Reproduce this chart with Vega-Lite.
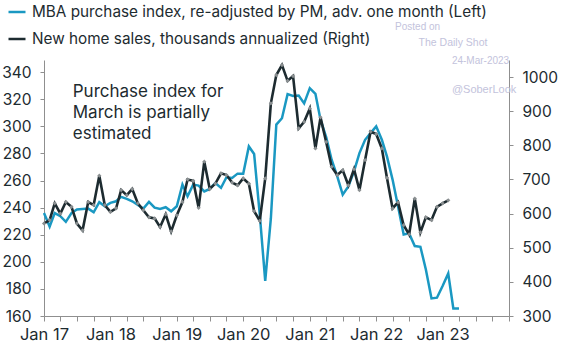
{
  "$schema": "https://vega.github.io/schema/vega-lite/v6.json",
  "width": 465,
  "height": 256,
  "autosize": {"type": "none"},
  "padding": {"left": 44, "top": 60, "right": 55, "bottom": 40},
  "background": "white",
  "config": {
    "view": {"stroke": null},
    "font": "Inter",
    "axis": {"labelFont": "Inter", "labelFontSize": 15.5, "labelColor": "#1d2b30", "domainColor": "#8f8f8f", "tickColor": "#8f8f8f", "grid": false, "title": null, "tickSize": 4},
    "legend": {"orient": "none", "legendX": -37, "legendY": -58, "direction": "vertical", "title": null, "labelFont": "Inter", "labelFontSize": 15.3, "labelColor": "#1d2b30", "symbolType": "stroke", "symbolSize": 289, "symbolStrokeWidth": 2.5, "rowPadding": 8, "labelOffset": 5, "padding": 0, "labelLimit": 600}
  },
  "datasets": {
    "series": [
      {"date": "2017-01-01", "series": "MBA", "value": 236},
      {"date": "2017-02-01", "series": "MBA", "value": 226},
      {"date": "2017-03-01", "series": "MBA", "value": 236},
      {"date": "2017-04-01", "series": "MBA", "value": 233.7},
      {"date": "2017-05-01", "series": "MBA", "value": 229.5},
      {"date": "2017-06-01", "series": "MBA", "value": 236},
      {"date": "2017-07-01", "series": "MBA", "value": 238.6},
      {"date": "2017-08-01", "series": "MBA", "value": 239},
      {"date": "2017-09-01", "series": "MBA", "value": 239.3},
      {"date": "2017-10-01", "series": "MBA", "value": 236.6},
      {"date": "2017-11-01", "series": "MBA", "value": 244},
      {"date": "2017-12-01", "series": "MBA", "value": 241},
      {"date": "2018-01-01", "series": "MBA", "value": 243.5},
      {"date": "2018-02-01", "series": "MBA", "value": 244.7},
      {"date": "2018-03-01", "series": "MBA", "value": 248},
      {"date": "2018-04-01", "series": "MBA", "value": 246.5},
      {"date": "2018-05-01", "series": "MBA", "value": 244.7},
      {"date": "2018-06-01", "series": "MBA", "value": 242},
      {"date": "2018-07-01", "series": "MBA", "value": 239.3},
      {"date": "2018-08-01", "series": "MBA", "value": 244.2},
      {"date": "2018-09-01", "series": "MBA", "value": 240},
      {"date": "2018-10-01", "series": "MBA", "value": 239},
      {"date": "2018-11-01", "series": "MBA", "value": 240.3},
      {"date": "2018-12-01", "series": "MBA", "value": 237.3},
      {"date": "2019-01-01", "series": "MBA", "value": 241},
      {"date": "2019-02-01", "series": "MBA", "value": 257},
      {"date": "2019-03-01", "series": "MBA", "value": 248.4},
      {"date": "2019-04-01", "series": "MBA", "value": 257},
      {"date": "2019-05-01", "series": "MBA", "value": 256.3},
      {"date": "2019-06-01", "series": "MBA", "value": 252},
      {"date": "2019-07-01", "series": "MBA", "value": 253.8},
      {"date": "2019-08-01", "series": "MBA", "value": 258.2},
      {"date": "2019-09-01", "series": "MBA", "value": 254.6},
      {"date": "2019-10-01", "series": "MBA", "value": 262.4},
      {"date": "2019-11-01", "series": "MBA", "value": 261.9},
      {"date": "2019-12-01", "series": "MBA", "value": 265.1},
      {"date": "2020-01-01", "series": "MBA", "value": 265.1},
      {"date": "2020-02-01", "series": "MBA", "value": 285.2},
      {"date": "2020-03-01", "series": "MBA", "value": 279.6},
      {"date": "2020-04-01", "series": "MBA", "value": 235},
      {"date": "2020-05-01", "series": "MBA", "value": 186},
      {"date": "2020-06-01", "series": "MBA", "value": 232},
      {"date": "2020-07-01", "series": "MBA", "value": 301.3},
      {"date": "2020-08-01", "series": "MBA", "value": 306},
      {"date": "2020-09-01", "series": "MBA", "value": 323.8},
      {"date": "2020-10-01", "series": "MBA", "value": 322.5},
      {"date": "2020-11-01", "series": "MBA", "value": 322.8},
      {"date": "2020-12-01", "series": "MBA", "value": 317},
      {"date": "2021-01-01", "series": "MBA", "value": 328.2},
      {"date": "2021-02-01", "series": "MBA", "value": 324},
      {"date": "2021-03-01", "series": "MBA", "value": 304.9},
      {"date": "2021-04-01", "series": "MBA", "value": 292},
      {"date": "2021-05-01", "series": "MBA", "value": 275.4},
      {"date": "2021-06-01", "series": "MBA", "value": 263.1},
      {"date": "2021-07-01", "series": "MBA", "value": 249.6},
      {"date": "2021-08-01", "series": "MBA", "value": 255.7},
      {"date": "2021-09-01", "series": "MBA", "value": 266.8},
      {"date": "2021-10-01", "series": "MBA", "value": 280.3},
      {"date": "2021-11-01", "series": "MBA", "value": 290.1},
      {"date": "2021-12-01", "series": "MBA", "value": 295},
      {"date": "2022-01-01", "series": "MBA", "value": 300},
      {"date": "2022-02-01", "series": "MBA", "value": 290.1},
      {"date": "2022-03-01", "series": "MBA", "value": 277.8},
      {"date": "2022-04-01", "series": "MBA", "value": 260.7},
      {"date": "2022-05-01", "series": "MBA", "value": 241},
      {"date": "2022-06-01", "series": "MBA", "value": 220.2},
      {"date": "2022-07-01", "series": "MBA", "value": 221},
      {"date": "2022-08-01", "series": "MBA", "value": 211.6},
      {"date": "2022-09-01", "series": "MBA", "value": 211.1},
      {"date": "2022-10-01", "series": "MBA", "value": 194.4},
      {"date": "2022-11-01", "series": "MBA", "value": 173},
      {"date": "2022-12-01", "series": "MBA", "value": 173.5},
      {"date": "2023-01-01", "series": "MBA", "value": 182.1},
      {"date": "2023-02-01", "series": "MBA", "value": 191.4},
      {"date": "2023-03-01", "series": "MBA", "value": 165.6},
      {"date": "2023-04-01", "series": "MBA", "value": 165.6},
      {"date": "2017-01-01", "series": "NHS", "value": 571},
      {"date": "2017-02-01", "series": "NHS", "value": 581},
      {"date": "2017-03-01", "series": "NHS", "value": 630},
      {"date": "2017-04-01", "series": "NHS", "value": 600},
      {"date": "2017-05-01", "series": "NHS", "value": 634},
      {"date": "2017-06-01", "series": "NHS", "value": 620},
      {"date": "2017-07-01", "series": "NHS", "value": 571},
      {"date": "2017-08-01", "series": "NHS", "value": 551},
      {"date": "2017-09-01", "series": "NHS", "value": 634},
      {"date": "2017-10-01", "series": "NHS", "value": 625},
      {"date": "2017-11-01", "series": "NHS", "value": 711},
      {"date": "2017-12-01", "series": "NHS", "value": 625},
      {"date": "2018-01-01", "series": "NHS", "value": 605},
      {"date": "2018-02-01", "series": "NHS", "value": 615},
      {"date": "2018-03-01", "series": "NHS", "value": 669},
      {"date": "2018-04-01", "series": "NHS", "value": 654},
      {"date": "2018-05-01", "series": "NHS", "value": 672},
      {"date": "2018-06-01", "series": "NHS", "value": 630},
      {"date": "2018-07-01", "series": "NHS", "value": 610},
      {"date": "2018-08-01", "series": "NHS", "value": 589},
      {"date": "2018-09-01", "series": "NHS", "value": 586},
      {"date": "2018-10-01", "series": "NHS", "value": 561},
      {"date": "2018-11-01", "series": "NHS", "value": 598},
      {"date": "2018-12-01", "series": "NHS", "value": 548},
      {"date": "2019-01-01", "series": "NHS", "value": 595},
      {"date": "2019-02-01", "series": "NHS", "value": 634},
      {"date": "2019-03-01", "series": "NHS", "value": 700},
      {"date": "2019-04-01", "series": "NHS", "value": 696},
      {"date": "2019-05-01", "series": "NHS", "value": 617},
      {"date": "2019-06-01", "series": "NHS", "value": 752},
      {"date": "2019-07-01", "series": "NHS", "value": 672},
      {"date": "2019-08-01", "series": "NHS", "value": 688},
      {"date": "2019-09-01", "series": "NHS", "value": 718},
      {"date": "2019-10-01", "series": "NHS", "value": 713},
      {"date": "2019-11-01", "series": "NHS", "value": 691},
      {"date": "2019-12-01", "series": "NHS", "value": 683},
      {"date": "2020-01-01", "series": "NHS", "value": 703},
      {"date": "2020-02-01", "series": "NHS", "value": 688},
      {"date": "2020-03-01", "series": "NHS", "value": 607},
      {"date": "2020-04-01", "series": "NHS", "value": 579},
      {"date": "2020-05-01", "series": "NHS", "value": 703},
      {"date": "2020-06-01", "series": "NHS", "value": 923},
      {"date": "2020-07-01", "series": "NHS", "value": 1006},
      {"date": "2020-08-01", "series": "NHS", "value": 1035},
      {"date": "2020-09-01", "series": "NHS", "value": 989},
      {"date": "2020-10-01", "series": "NHS", "value": 1003},
      {"date": "2020-11-01", "series": "NHS", "value": 850},
      {"date": "2020-12-01", "series": "NHS", "value": 869},
      {"date": "2021-01-01", "series": "NHS", "value": 908},
      {"date": "2021-02-01", "series": "NHS", "value": 791},
      {"date": "2021-03-01", "series": "NHS", "value": 882},
      {"date": "2021-04-01", "series": "NHS", "value": 810},
      {"date": "2021-05-01", "series": "NHS", "value": 737},
      {"date": "2021-06-01", "series": "NHS", "value": 713},
      {"date": "2021-07-01", "series": "NHS", "value": 727},
      {"date": "2021-08-01", "series": "NHS", "value": 683},
      {"date": "2021-09-01", "series": "NHS", "value": 730},
      {"date": "2021-10-01", "series": "NHS", "value": 669},
      {"date": "2021-11-01", "series": "NHS", "value": 757},
      {"date": "2021-12-01", "series": "NHS", "value": 840},
      {"date": "2022-01-01", "series": "NHS", "value": 833},
      {"date": "2022-02-01", "series": "NHS", "value": 791},
      {"date": "2022-03-01", "series": "NHS", "value": 705},
      {"date": "2022-04-01", "series": "NHS", "value": 615},
      {"date": "2022-05-01", "series": "NHS", "value": 633},
      {"date": "2022-06-01", "series": "NHS", "value": 566},
      {"date": "2022-07-01", "series": "NHS", "value": 539},
      {"date": "2022-08-01", "series": "NHS", "value": 644},
      {"date": "2022-09-01", "series": "NHS", "value": 545},
      {"date": "2022-10-01", "series": "NHS", "value": 589},
      {"date": "2022-11-01", "series": "NHS", "value": 581},
      {"date": "2022-12-01", "series": "NHS", "value": 620},
      {"date": "2023-01-01", "series": "NHS", "value": 630},
      {"date": "2023-02-01", "series": "NHS", "value": 639}
    ],
    "notes": [
      {"date": "2017-06-08", "value": 325.7, "text": "Purchase index for", "kind": "note"},
      {"date": "2017-06-08", "value": 309.8, "text": "March is partially", "kind": "note"},
      {"date": "2017-06-08", "value": 294.5, "text": "estimated", "kind": "note"},
      {"date": "2022-04-15", "value": 373.6, "text": "Posted on", "kind": "wm_small"},
      {"date": "2022-08-22", "value": 361.4, "text": "The Daily Shot", "kind": "wm_mid"},
      {"date": "2023-02-21", "value": 348.5, "text": "24-Mar-2023", "kind": "wm_small"},
      {"date": "2023-02-21", "value": 327, "text": "@SoberLook", "kind": "wm_big"}
    ]
  },
  "encoding": {
    "x": {
      "field": "date", "type": "temporal",
      "scale": {"type": "utc", "domain": [{"year": 2017, "month": 1, "date": 1, "utc": true}, {"year": 2024, "month": 1, "date": 1, "utc": true}]},
      "axis": {
        "tickCount": {"interval": "month", "step": 3},
        "labelExpr": "utcmonth(datum.value) == 0 && utcyear(datum.value) < 2024 ? utcFormat(datum.value, '%b %y') : ''",
        "labelOverlap": false, "labelFlush": false, "labelPadding": 5, "tickSize": 5, "labelFontSize": 16.5
      }
    }
  },
  "layer": [
    {
      "data": {"name": "series"},
      "transform": [{"filter": "datum.series == 'MBA'"}],
      "mark": {"type": "line", "strokeWidth": 2.5, "interpolate": "linear"},
      "encoding": {
        "y": {"field": "value", "type": "quantitative", "scale": {"domain": [160, 349], "nice": false, "zero": false}, "axis": {"orient": "left", "values": [160, 180, 200, 220, 240, 260, 280, 300, 320, 340], "labelPadding": 9}},
        "color": {"field": "series", "type": "nominal", "scale": {"domain": ["MBA", "NHS"], "range": ["#1a98c2", "#1d2b30"]},
          "legend": {"labelExpr": "datum.value == 'MBA' ? 'MBA purchase index, re-adjusted by PM, adv. one month (Left)' : 'New home sales, thousands annualized (Right)'"}}
      }
    },
    {
      "data": {"name": "series"},
      "transform": [{"filter": "datum.series == 'NHS'"}],
      "layer": [
        {"mark": {"type": "line", "strokeWidth": 2.6}, "encoding": {"color": {"field": "series", "type": "nominal", "scale": {"domain": ["MBA", "NHS"], "range": ["#1a98c2", "#1d2b30"]}}}},
        {"mark": {"type": "point", "shape": "diamond", "filled": true, "size": 18, "color": "#8a8f91", "opacity": 1}, "encoding": {}}
      ],
      "encoding": {
        "y": {"field": "value", "type": "quantitative", "scale": {"domain": [300, 1050], "nice": false, "zero": false}, "axis": {"orient": "right", "format": "d", "values": [300, 400, 500, 600, 700, 800, 900, 1000], "labelPadding": 9}}
      }
    },
    {
      "data": {"name": "notes"},
      "transform": [{"filter": "datum.kind == 'note'"}],
      "mark": {"type": "text", "align": "left", "baseline": "middle", "fontSize": 17, "color": "#1d2b30"},
      "encoding": {
        "y": {"field": "value", "type": "quantitative", "scale": {"domain": [160, 349], "nice": false, "zero": false}, "axis": null},
        "text": {"field": "text"}
      }
    },
    {
      "data": {"name": "notes"},
      "transform": [{"filter": "datum.kind != 'note'"}],
      "mark": {"type": "text", "align": "left", "baseline": "middle", "color": "#c3c3dc", "font": "Liberation Sans"},
      "encoding": {
        "y": {"field": "value", "type": "quantitative", "scale": {"domain": [160, 349], "nice": false, "zero": false}, "axis": null},
        "size": {"field": "kind", "type": "ordinal", "scale": {"domain": ["wm_small", "wm_mid", "wm_big"], "range": [10, 11, 12.8]}, "legend": null},
        "text": {"field": "text"}
      }
    }
  ],
  "resolve": {"scale": {"y": "independent"}}
}
